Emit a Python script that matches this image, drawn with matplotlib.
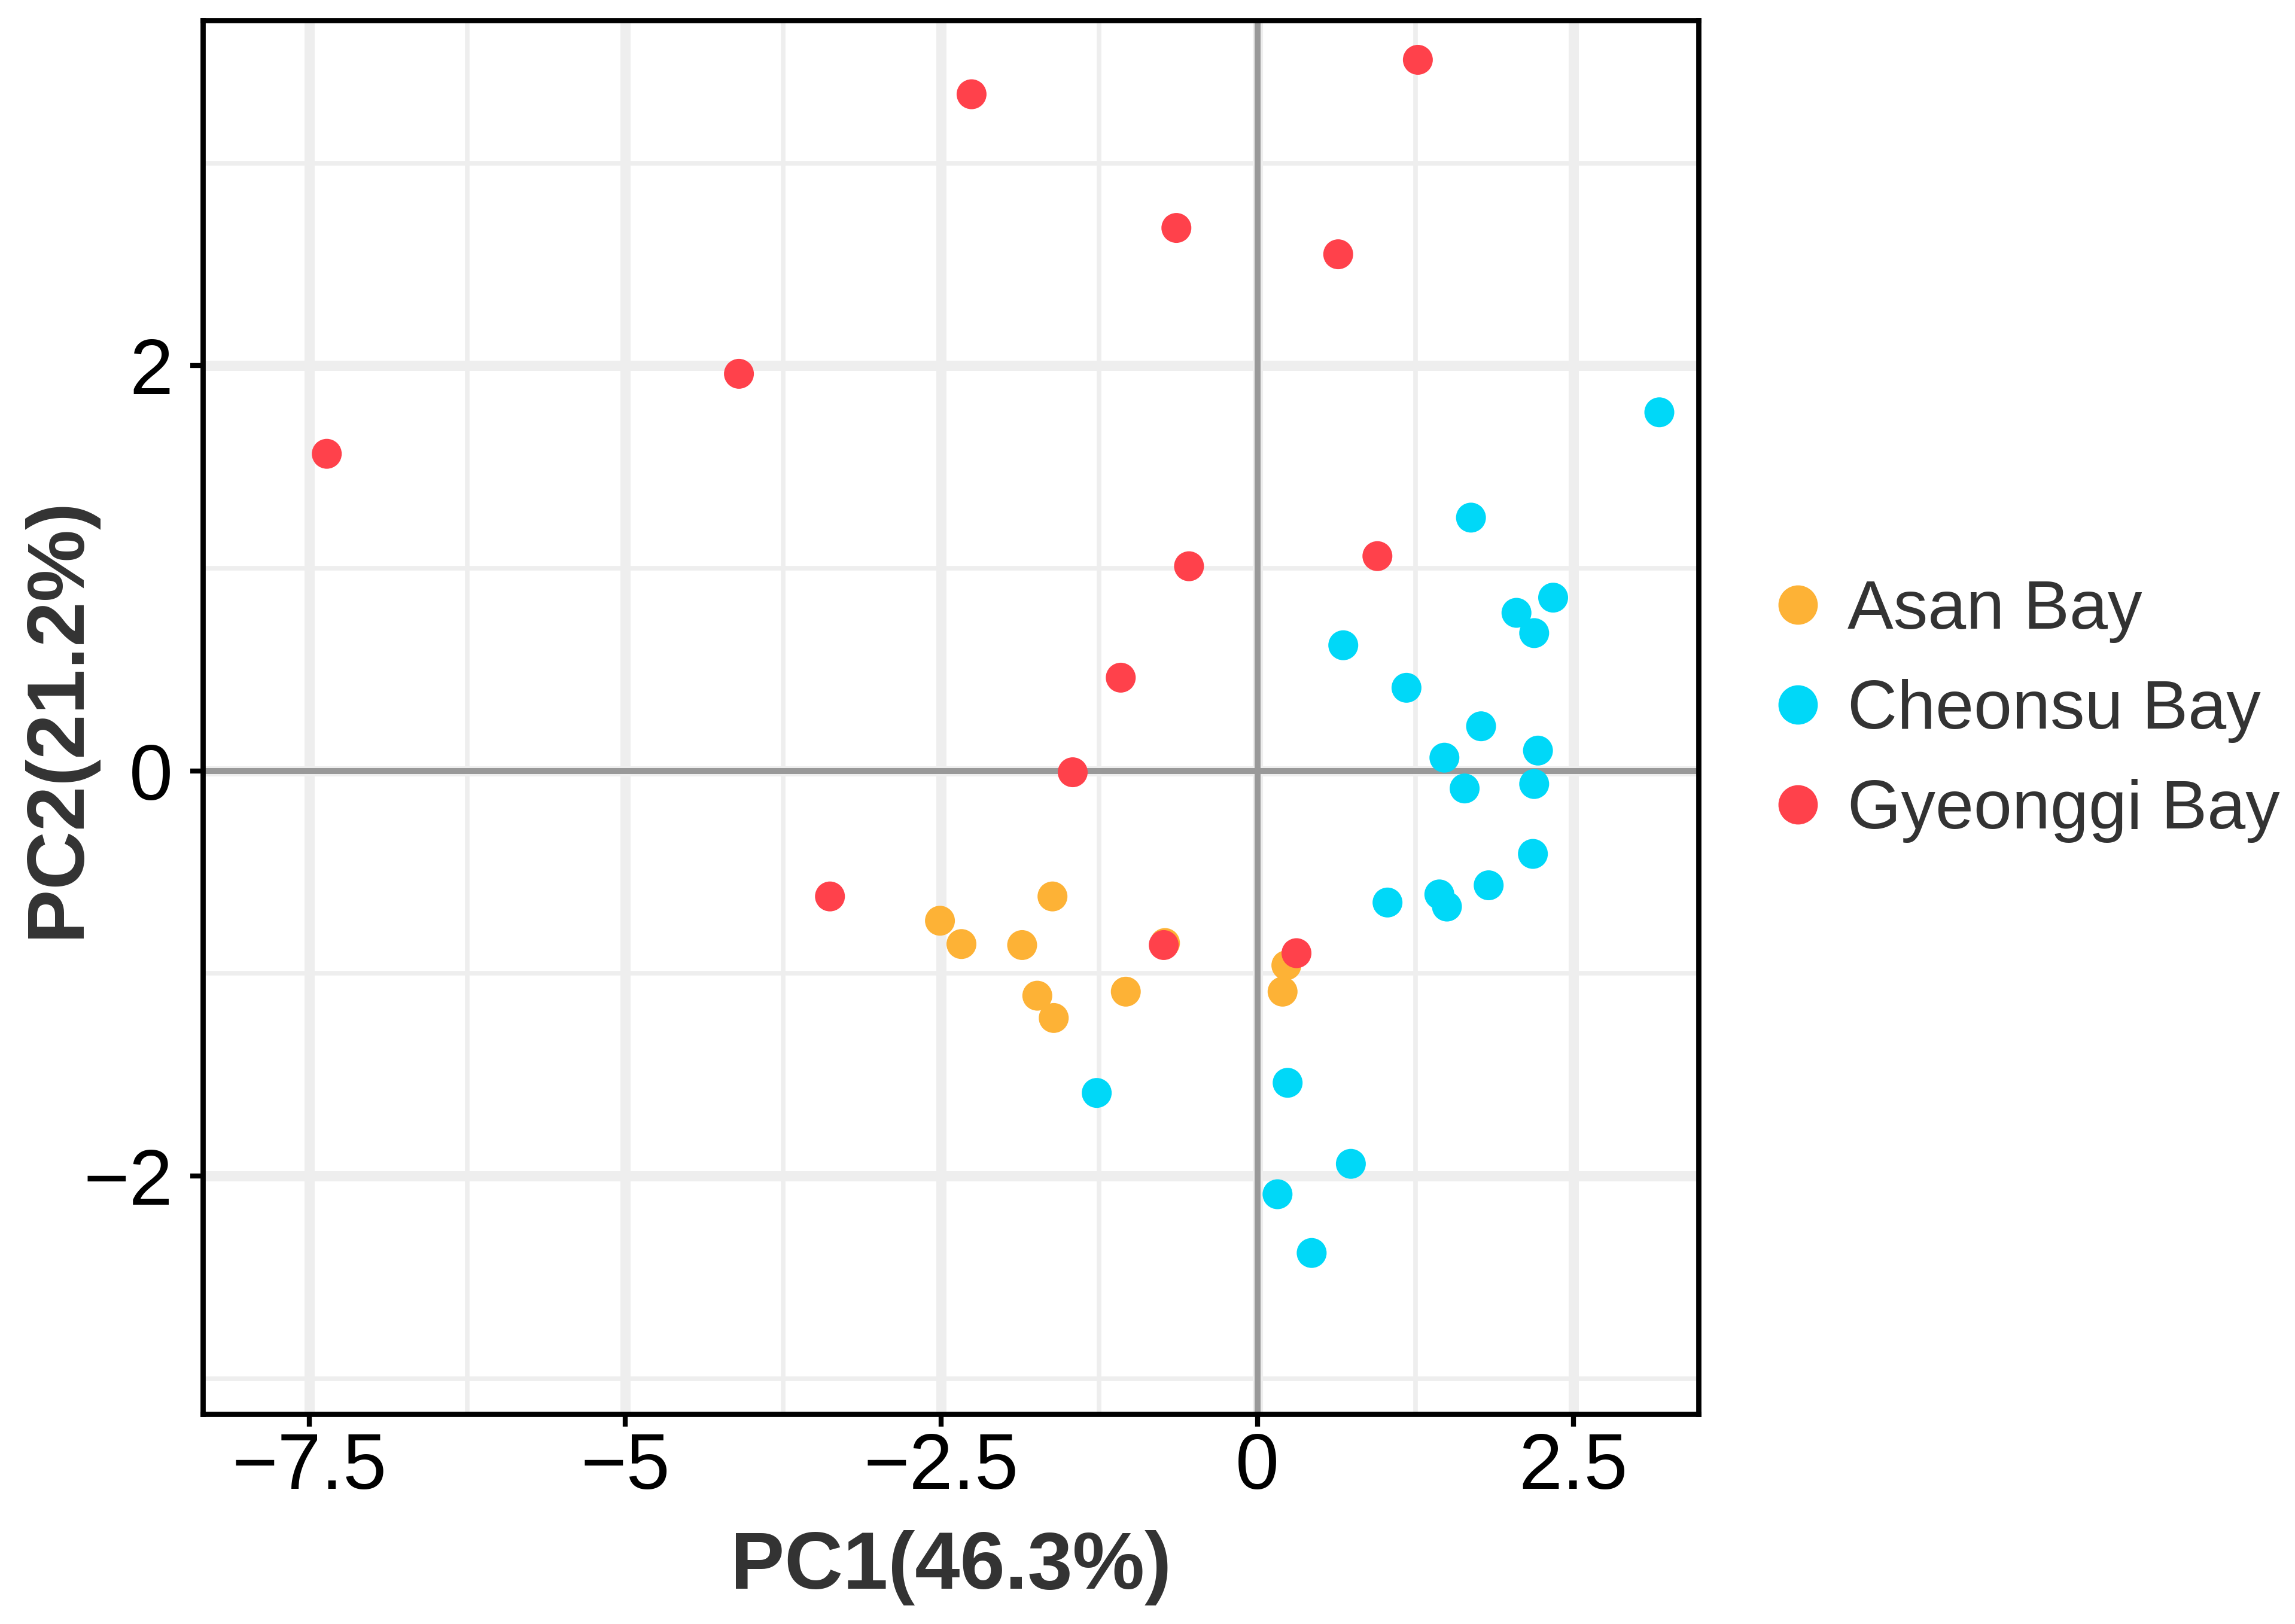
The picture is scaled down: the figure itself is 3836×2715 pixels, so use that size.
import numpy as np
import matplotlib.pyplot as plt
from matplotlib.lines import Line2D

plt.rcParams['font.family'] = ['Liberation Sans', 'DejaVu Sans']

# PCA scores
asan_pc1 = [-2.51, -2.34, -1.62, -1.86, -1.74, -1.61, -1.04, -0.73, 0.23, 0.20]
asan_pc2 = [-0.74, -0.855, -0.62, -0.86, -1.11, -1.22, -1.09, -0.85, -0.96, -1.09]

cheonsu_pc1 = [3.18, 1.69, 2.05, 2.34, 2.19, 0.68, 1.18, 1.77, 1.48, 2.22, 1.64,
               2.19, 2.18, 1.83, 1.44, 1.50, 1.03, -1.27, 0.24, 0.74, 0.16, 0.43]
cheonsu_pc2 = [1.77, 1.25, 0.78, 0.855, 0.68, 0.62, 0.41, 0.22, 0.065, 0.10, -0.087,
               -0.065, -0.41, -0.565, -0.61, -0.67, -0.65, -1.59, -1.54, -1.94, -2.09, -2.38]

gyeonggi_pc1 = [-7.36, -4.10, -2.26, -0.64, 1.27, 0.64, -0.54, 0.95, -1.08, -1.46,
                -3.38, -0.74, 0.31]
gyeonggi_pc2 = [1.565, 1.96, 3.34, 2.68, 3.51, 2.55, 1.01, 1.06, 0.46, -0.007,
                -0.62, -0.86, -0.90]

groups = ['Asan Bay', 'Cheonsu Bay', 'Gyeonggi Bay']
colors = ['#FDB236', '#00D8F8', '#FF414B']

x_ticks = [-7.5, -5, -2.5, 0, 2.5]
x_ticklabels = ['\u22127.5', '\u22125', '\u22122.5', '0', '2.5']
y_ticks = [-2, 0, 2]
y_ticklabels = ['\u22122', '0', '2']

fig = plt.figure(figsize=(3836 / 300, 2715 / 300), dpi=300)
ax = fig.add_axes([0.0884, 0.1293, 0.7401 - 0.0884, 0.9875 - 0.1293])

ax.set_xlim(-8.34, 3.49)
ax.set_ylim(-3.175, 3.705)

# grid like ggplot: thick major, thin minor
grid_col = '#EEEEEE'
for v in x_ticks:
    ax.axvline(v, color=grid_col, lw=4.1, zorder=0)
for v in [-6.25, -3.75, -1.25, 1.25]:
    ax.axvline(v, color=grid_col, lw=1.85, zorder=0)
for v in y_ticks:
    ax.axhline(v, color=grid_col, lw=4.1, zorder=0)
for v in [-3, -1, 1, 3]:
    ax.axhline(v, color=grid_col, lw=1.85, zorder=0)

ax.axhline(0, color='#999999', lw=2.4, zorder=1)
ax.axvline(0, color='#999999', lw=2.4, zorder=1)

data = [(asan_pc1, asan_pc2), (cheonsu_pc1, cheonsu_pc2), (gyeonggi_pc1, gyeonggi_pc2)]
for (xs, ys), c in zip(data, colors):
    ax.scatter(xs, ys, s=144, color=c, edgecolors='none', zorder=3)

ax.set_xticks(x_ticks)
ax.set_xticklabels(x_ticklabels)
ax.set_yticks(y_ticks)
ax.set_yticklabels(y_ticklabels)
ax.tick_params(axis='both', length=5, width=2, color='black', labelsize=31.5,
               labelcolor='black')
ax.tick_params(axis='x', pad=2)
ax.tick_params(axis='y', pad=7)

for sp in ax.spines.values():
    sp.set_linewidth(2.1)
    sp.set_color('black')

ax.set_xlabel('PC1(46.3%)', fontsize=32.5, fontweight='bold', color='#333333', labelpad=10)
ax.set_ylabel('PC2(21.2%)', fontsize=32.5, fontweight='bold', color='#333333')
ax.yaxis.set_label_coords(-0.0716, 0.5)

handles = [Line2D([], [], ls='none', marker='o', markersize=15.8, color=c,
                  markeredgewidth=0) for c in colors]
fig.legend(handles, groups, loc='center left', bbox_to_anchor=(0.7685, 0.5622),
           frameon=False, fontsize=27.6, labelcolor='#333333', handlelength=1.0,
           handletextpad=0.22, labelspacing=0.52, borderpad=0, borderaxespad=0)

fig.savefig('out.png', dpi=300)
